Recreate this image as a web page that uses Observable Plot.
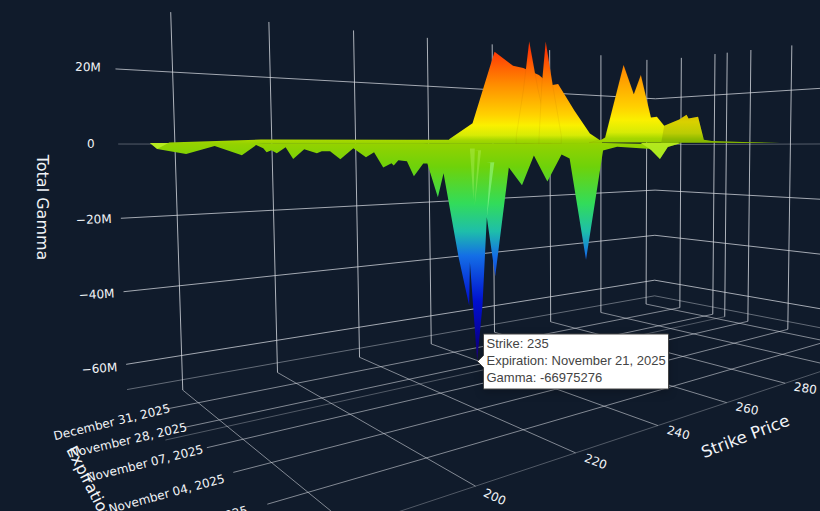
<!DOCTYPE html>
<html><head><meta charset="utf-8">
<script src="https://cdn.jsdelivr.net/npm/d3@7"></script>
<script src="https://cdn.jsdelivr.net/npm/@observablehq/plot@0.6"></script>
<style>html,body{margin:0;padding:0;background:#101b2b;overflow:hidden}svg{display:block}</style>
</head><body><div id="chart"></div>
<script>
// ---- axis values
const gammaTicks = [20e6, 0, -20e6, -40e6, -60e6];
const gammaTickLabels = ["20M", "0", "\u221220M", "\u221240M", "\u221260M"];
const gammaTickTurn = [2, 0, -2, -3, -4];
const strikeTicks = [200, 220, 240, 260, 280];
const strikeTicksWall = [180, 200, 220, 240, 260, 280, 300, 320];
const strikeTickTurn = [25, 21, 16, 12, 9];
const expiryTickLabels = ["December 31, 2025", "November 28, 2025", "November 07, 2025", "November 04, 2025", "October 31, 2025"];
const expiryTickDepth = [0.137, 0.303, 0.466, 0.636, 0.82];
const expiryLabelDepth = [0.137, 0.303, 0.47, 0.655, 0.82];
const expiryLabelStrike = [174.8, 174.3, 173.3, 172.2, 171.2];
const expiryTickTurn = [-13.6, -13, -14, -15, -15];
const expiryTickWall = [0.137, 0.303, 0.36, 0.466, 0.636, 0.82];

// ---- expiry depth along the axis (0 = back wall, 1 = front edge)
const depthDec31 = 0.137, depthNov21 = 0.36, depthNov07 = 0.466, depthOct31 = 0.80, depthOct28 = 0.95;

// ---- series: strike / gamma in millions
const strikesDec31 = [176.2, 193.8, 227.8, 239.5, 291.6, 306];
const gammaDec31 = [0.26, 1.12, 1.27, 1.3, 0.39, 0];

const strikesNov21 = [166.9, 168.8, 169.9, 174.5, 179.3, 184, 186.6, 187.9, 188.5, 189.4, 190.4, 192.1, 193.5, 195.7, 198.2, 199.2, 200.9, 203, 205.8, 208.5, 210.3, 212.3, 214.2, 214.7, 215.8, 217.8, 219.4, 221.7, 222.7, 225.2, 226.7, 230.3, 233, 233.3, 235, 236.6, 238, 240.2, 244.3, 248.1, 251.7, 255.8, 260.3, 262.9, 268.3, 274.2, 279.2, 290.6, 302.8];
const gammaNov21 = [0, 0, -1.39, -2.6, -0.7, -3, -0.5, -1.26, -2.27, -1.77, -2.54, -1.02, -4.1, -1.56, -2.62, -2.1, -2.1, -4.3, -1.35, -3.8, -2.5, -6.7, -5.6, -6.2, -4.8, -5.1, -9.4, -5.8, -5.8, -15.8, -8.8, -34, -49.4, -36, -66.975276, -50, -22.7, -41.4, -7.5, -13.3, -3.86, -12.4, -3.64, -5, -39.8, -2.4, -1.05, -1.8, 0];

const strikesNov07 = [222.9, 228.7, 234.5, 239.4, 242.2, 246.6, 250.1, 252.2, 257.1, 262, 265.9];
const gammaNov07 = [1.1, 5.7, 26.5, 22.9, 22.5, 20.7, 17.9, 18.4, 10.4, 3.2, 0.65];
const strikesNov07b = [240.2, 242.2, 243.9, 246.2, 248.9, 250];
const gammaNov07b = [2.4, 15.9, 30.5, 17, 4, 0.9];
const strikesNov07c = [246.6, 247.4, 248.6, 250.7, 253.1];
const gammaNov07c = [2.4, 17.7, 31, 17.3, 2.5];

const strikesOct31 = [251.9, 254.9, 257.6, 260, 264.2];
const gammaOct31 = [0, -1.96, -4.5, -1.1, 0];

const strikesOct28 = [226.9, 229.8, 230.6, 235.1, 237.7, 239.5, 242.2, 243.8, 245.8, 250];
const gammaOct28 = [0, 0.7, 1.2, 18.7, 11.8, 16.6, 6.3, 6.5, 4.3, 0];
const strikesOct28b = [245, 245.8, 250, 252.1, 252.7, 255.5, 257.3, 259.8, 269.7, 282.9];
const gammaOct28b = [0, 4.3, 6, 7.3, 6.3, 6.9, 0.8, 0.5, 0.28, 0];

const strikesSlitA = [233.6, 234.4, 234.9];
const gammaSlitA = [-1.5, -17.2, -1.5];
const strikesSlitB = [235.8, 234.7, 236.6];
const gammaSlitB = [-2.1, -19.2, -2.1];
const strikesSlitC = [239.1, 238, 240.2];
const gammaSlitC = [-5.8, -22.7, -5.8];
const strikesTip = [168.8, 169.9, 171.7];
const gammaTip = [0, -1.4, 0];

// ---- colour stops (gamma in millions)
const colorDomain = [-67, -57, -45, -32, -25, -17, -6.7, -0.6, 0, 1, 2.5, 5.5, 8.6, 18, 28];
const colorRange = ["#3c0064", "#0a0090", "#0010d0", "#146ee6", "#1ebeaa", "#32dc5a", "#6ed20a", "#91d200", "#96d200", "#a5d700", "#d7eb05", "#faf000", "#ffd200", "#ff8c00", "#ff3705"];
const color = Plot.scale({color: {type: "linear", domain: colorDomain, range: colorRange}});

// ---- camera: perspective of the 3-D box onto the page
const camA = 0.0719, camD = 0.3356, camC = 0.004884;
function project(strike, depth, gamma) {
  const s = (strike - 200) / 20, Z = (gamma + 70e6) / 20e6;
  const w = 1 + camA * s - camD * depth - camC * Z;
  return [
    (277 + 1500 * camA * s + 115 * camD * depth - 600 * camC * Z) / w,
    (372 + 145 * camA * s - 147 * camD * depth - 13500 * camC * Z) / w
  ];
}
const px = (s, d, g) => project(s, d, g)[0];
const py = (s, d, g) => project(s, d, g)[1];

const zTop = 36.5e6, zFloor = -70e6, zFaint = -67e6;
const strikeMin = 169.6, strikeMax = 324, strikeStub = 174;

function link3(a, b, stroke, opacity) {
  return {a, b, stroke, opacity};
}
const wallLines = [
  ...gammaTicks.map(g => link3([strikeMin, 0, g], [strikeMax, 0, g], "#d4d8df", g === 0 ? 0.35 : 0.75)),
  ...gammaTicks.map(g => link3([strikeMax, 0, g], [strikeMax, 1.2, g], "#d4d8df", g === 0 ? 0.35 : 0.75)),
  link3([strikeMin, 0, zFaint], [strikeMax, 0, zFaint], "#d4d8df", 0.42),
  link3([strikeMax, 0, zFaint], [strikeMax, 1.2, zFaint], "#d4d8df", 0.42),
  ...strikeTicksWall.map(s => link3([s, 0, zFloor], [s, 0, zTop], "#d4d8df", 0.8)),
  ...expiryTickWall.map(t => link3([strikeMax, t, zFloor], [strikeMax, t, zTop], "#d4d8df", 0.8))
];
const floorLines = [
  ...strikeTicksWall.map(s => link3([s, 0, zFloor], [s, 1, zFloor], "#d4d8df", 0.58)),
  ...expiryTickDepth.map(t => link3([strikeStub, t, zFloor], [strikeMax, t, zFloor], "#d4d8df", 0.58)),
  link3([strikeMin, 0.36, zFloor], [strikeMax, 0.36, zFloor], "#d4d8df", 0.33),
  link3([strikeMin, 1, zFloor], [strikeMax, 1, zFloor], "#d4d8df", 0.33)
];
const gridLines = [...wallLines, ...floorLines];

function sheet(id, depth, strikes, gammas, base = 0) {
  return {id, depth, base, rows: strikes.map((strike, i) => ({strike, gamma: gammas[i] * 1e6, base: base * 1e6, depth}))};
}
const surfaces = [
  sheet("dec31", depthDec31, strikesDec31, gammaDec31),
  sheet("nov21", depthNov21, strikesNov21, gammaNov21),
  sheet("oct31", depthOct31, strikesOct31, gammaOct31),
  sheet("nov07", depthNov07, strikesNov07, gammaNov07),
  sheet("nov07b", depthNov07, strikesNov07b, gammaNov07b),
  sheet("nov07c", depthNov07, strikesNov07c, gammaNov07c),
  sheet("oct28", depthOct28, strikesOct28, gammaOct28),
  sheet("oct28b", depthOct28, strikesOct28b, gammaOct28b)
];
const folds = {nov07b: 1, nov07c: 1, oct28: 1};
const veils = {oct28b: 0.13};
const highlights = [
  {s: sheet("slitA", depthNov21, strikesSlitA, gammaSlitA, -1.5), o: 0.3, f: "#c8ff80"},
  {s: sheet("slitB", depthNov21, strikesSlitB, gammaSlitB, -2.1), o: 0.3, f: "#c8ff80"},
  {s: sheet("slitC", depthNov21, strikesSlitC, gammaSlitC, -5.8), o: 0.5, f: "#a0ffa0"},
  {s: sheet("tip", depthNov21, strikesTip, gammaTip), o: 0.55, f: "#d4ff3a"},
  {s: sheet("dip", depthOct31, strikesOct31, gammaOct31), o: 0.5, f: "#d4ff3a"}
];

const areaOf = (rows, opts) => Plot.area(rows, {
  x1: d => px(d.strike, d.depth, d.base),
  y1: d => py(d.strike, d.depth, d.base),
  x2: d => px(d.strike, d.depth, d.gamma),
  y2: d => py(d.strike, d.depth, d.gamma),
  curve: "linear",
  ...opts
});

const hover = {strike: 235, expiry: "November 21, 2025", gamma: -66975276, depth: depthNov21};

const textBase = {fontFamily: "DejaVu Sans, sans-serif", fill: "#f2f4f7"};
const chart = Plot.plot({
  width: 820, height: 511, margin: 0,
  style: {background: "#101b2b", display: "block"},
  x: {domain: [0, 820], range: [0, 820], axis: null},
  y: {domain: [0, 511], range: [0, 511], axis: null},
  marks: [
    Plot.link(gridLines, {
      x1: d => px(...d.a), y1: d => py(...d.a), x2: d => px(...d.b), y2: d => py(...d.b),
      stroke: d => d.stroke, strokeOpacity: d => d.opacity, strokeWidth: 1
    }),
    ...surfaces.flatMap(sh => {
      const list = [areaOf(sh.rows, {
        fill: `url(#grad-${sh.id})`,
        stroke: folds[sh.id] ? "#7a3a00" : "none", strokeOpacity: 0.08, strokeWidth: 1
      })];
      if (veils[sh.id]) list.push(areaOf(sh.rows, {fill: "#000", fillOpacity: veils[sh.id]}));
      return list;
    }),
    ...highlights.map(h => areaOf(h.s.rows, {fill: h.f, fillOpacity: h.o})),
    // gamma ticks
    Plot.text(gammaTicks.map((g, i) => ({g, label: gammaTickLabels[i], turn: gammaTickTurn[i]})), {
      x: d => px(164.9, 0, d.g), y: d => py(164.9, 0, d.g), text: "label", rotate: "turn",
      fontSize: 12, textAnchor: "middle", ...textBase
    }),
    // strike ticks
    Plot.text(strikeTicks.map((s, i) => ({s, turn: strikeTickTurn[i]})), {
      x: d => px(d.s, 1.062, zFloor), y: d => py(d.s, 1.062, zFloor), text: d => String(d.s), rotate: "turn",
      fontSize: 12, textAnchor: "middle", ...textBase
    }),
    // expiry ticks
    Plot.text(expiryTickLabels.map((label, i) => ({label, t: expiryLabelDepth[i], s: expiryLabelStrike[i], turn: expiryTickTurn[i]})), {
      x: d => px(d.s, d.t, zFloor), y: d => py(d.s, d.t, zFloor), text: "label", rotate: "turn",
      fontSize: 12, textAnchor: "end", ...textBase
    }),
    // axis titles
    Plot.text(["Total Gamma"], {x: () => px(156.5, 0, -16.2e6), y: () => py(156.5, 0, -16.2e6), rotate: 90, fontSize: 16, ...textBase}),
    Plot.text(["Strike Price"], {x: () => px(247.6, 1.174, zFloor), y: () => py(247.6, 1.174, zFloor), rotate: -21, fontSize: 16.5, ...textBase}),
    Plot.text(["Expiration"], {x: () => px(156, 0.51, zFloor), y: () => py(156, 0.51, zFloor), rotate: 63, fontSize: 16, ...textBase}),
    // hover box
    Plot.tip([hover], {
      x: d => px(d.strike, d.depth, d.gamma), y: d => py(d.strike, d.depth, d.gamma),
      title: d => `Strike: ${d.strike}\nExpiration: ${d.expiry}\nGamma: ${d.gamma}`,
      anchor: "left", fill: "#fff", stroke: "#444", fontSize: 13, lineWidth: 40, lineHeight: 1.3,
      fontFamily: "Liberation Sans, Arial, sans-serif", textPadding: 3
    })
  ]
});

// gradients: each sheet gets colour by gamma, placed with the projection at its mid strike
const NS = "http://www.w3.org/2000/svg";
const defs = document.createElementNS(NS, "defs");
for (const sh of surfaces) {
  const midS = d3.median(sh.rows, d => d.strike);
  const ys = colorDomain.map(g => chart.scale("y").apply(py(midS, sh.depth, g * 1e6)));
  const top = ys[ys.length - 1], bot = ys[0];
  const grad = document.createElementNS(NS, "linearGradient");
  grad.setAttribute("id", `grad-${sh.id}`);
  grad.setAttribute("gradientUnits", "userSpaceOnUse");
  grad.setAttribute("x1", 0); grad.setAttribute("x2", 0);
  grad.setAttribute("y1", top); grad.setAttribute("y2", bot);
  colorDomain.map((g, i) => ({g, y: ys[i]})).reverse().forEach(({g, y}) => {
    const st = document.createElementNS(NS, "stop");
    st.setAttribute("offset", (y - top) / (bot - top));
    st.setAttribute("stop-color", color.apply(g));
    grad.appendChild(st);
  });
  defs.appendChild(grad);
}
chart.insertBefore(defs, chart.firstChild);
chart.querySelectorAll('g[aria-label="tip"]').forEach(g => { g.style.color = "#444"; });
document.getElementById("chart").appendChild(chart);
</script></body></html>
